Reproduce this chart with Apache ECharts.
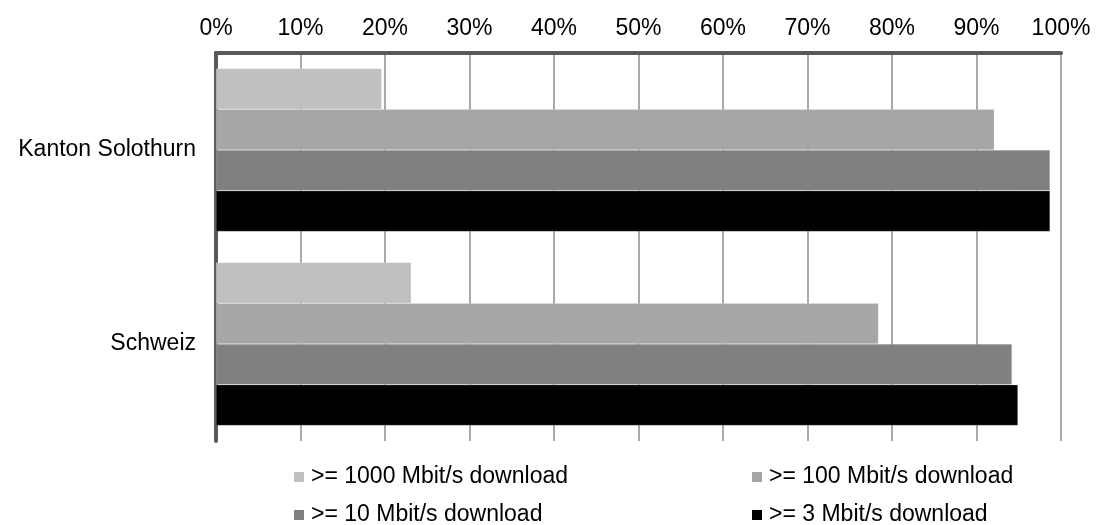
<!DOCTYPE html>
<html>
<head>
<meta charset="utf-8">
<script src="https://cdn.jsdelivr.net/npm/echarts@6/dist/echarts.min.js"></script>
<style>
  html, body { margin: 0; padding: 0; background: #fff; }
  #chart { width: 1096px; height: 525px; }
</style>
</head>
<body>
<div id="chart"></div>
<script>
// Regions shown on the category axis (top to bottom)
const regions = ['Kanton Solothurn', 'Schweiz'];

// Broadband availability by download speed, share of households in %
const seriesNames = [
  '>= 1000 Mbit/s download',
  '>= 100 Mbit/s download',
  '>= 10 Mbit/s download',
  '>= 3 Mbit/s download'
];
const speed1000 = [19.6, 23.1];
const speed100 = [92.1, 78.4];
const speed10 = [98.7, 94.2];
const speed3 = [98.7, 94.9];
const seriesValues = [speed1000, speed100, speed10, speed3];
const seriesColors = ['#c0c0c0', '#a6a6a6', '#808080', '#000000'];

// Percent axis ticks
const axisMin = 0;
const axisMax = 100;
const axisStep = 10;

const fontFamily = '"Liberation Sans", Arial, sans-serif';
const fontSize = 23;

const chart = echarts.init(document.getElementById('chart'), null, { renderer: 'canvas' });

// Legend is laid out as a 2 x 2 grid of single-entry legends
const legendSlots = [
  { left: 294, top: 465 },
  { left: 752, top: 465 },
  { left: 294, top: 503 },
  { left: 752, top: 503 }
];

const legends = seriesNames.map((name, i) => ({
  data: [name],
  left: legendSlots[i].left,
  top: legendSlots[i].top,
  itemWidth: 10,
  itemHeight: 10,
  icon: 'rect',
  selectedMode: false,
  padding: 0,
  itemStyle: { borderWidth: 0 },
  textStyle: {
    fontFamily: fontFamily,
    fontSize: fontSize,
    lineHeight: 24,
    color: '#000',
    padding: [0, 0, 0, 2]
  }
}));

const option = {
  animation: false,
  backgroundColor: '#ffffff',
  legend: legends,
  grid: {
    left: 216,
    right: 35,
    top: 53,
    bottom: 84,
    containLabel: false
  },
  xAxis: {
    type: 'value',
    position: 'top',
    min: axisMin,
    max: axisMax,
    interval: axisStep,
    axisLine: { show: true, lineStyle: { color: '#595959', width: 4 } },
    axisTick: { show: false },
    axisLabel: {
      formatter: '{value}%',
      fontFamily: fontFamily,
      fontSize: fontSize,
      color: '#000',
      margin: 13
    },
    splitLine: { show: true, lineStyle: { color: '#8c8c8c', width: 1.5 } }
  },
  yAxis: {
    type: 'category',
    data: regions,
    inverse: true,
    axisLine: { show: true, lineStyle: { color: '#595959', width: 4 } },
    axisTick: { show: false },
    axisLabel: {
      fontFamily: fontFamily,
      fontSize: fontSize,
      color: '#000',
      margin: 20
    },
    splitLine: { show: false }
  },
  series: seriesNames.map((name, i) => ({
    name: name,
    type: 'bar',
    data: seriesValues[i],
    barGap: '0%',
    barCategoryGap: '16%',
    itemStyle: {
      color: seriesColors[i],
      borderColor: 'rgba(255,255,255,0.35)',
      borderWidth: 0.5
    },
    z: 3
  }))
};

chart.setOption(option);
</script>
</body>
</html>
